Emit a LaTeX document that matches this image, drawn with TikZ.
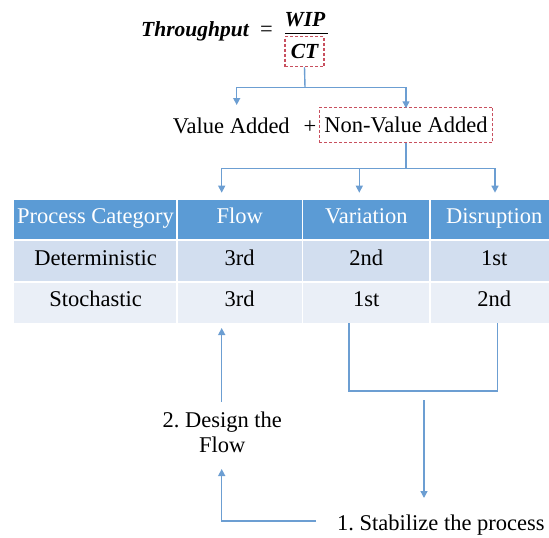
\documentclass[tikz,border=0pt]{standalone}
\usepackage{fontspec}
\setmainfont{Liberation Serif}
\usetikzlibrary{arrows.meta}

\definecolor{linkblue}{RGB}{108,158,210}
\definecolor{headblue}{RGB}{91,155,213}
\definecolor{bandA}{RGB}{210,222,239}
\definecolor{bandB}{RGB}{234,239,247}
\definecolor{dashred}{RGB}{200,80,95}

\tikzset{
  txt/.style={inner sep=0pt, font=\fontsize{22.5}{24.7}\selectfont\frenchspacing},
  bitxt/.style={txt, font=\fontsize{21.5}{24.7}\selectfont\bfseries\itshape},
  dashbox/.style={draw=dashred, line width=1.1pt, dash pattern=on 3pt off 2pt},
  link/.style={draw=linkblue, line width=1.4pt},
  linkarrow/.style={link, -{Triangle[width=7pt,length=7pt]}},
  cell/.style={txt, anchor=north west, text height=14pt, text depth=6pt},
  headcell/.style={cell, fill=headblue, text=white},
  rowA/.style={cell, fill=bandA},
  rowB/.style={cell, fill=bandB},
}

\begin{document}
\begin{tikzpicture}[x=1pt,y=-1pt]
\useasboundingbox (0,0) rectangle (549,538);

% ---- throughput formula ----
\node[bitxt, anchor=base east] (tp) at (249,36.7) {Throughput};
\node[txt, anchor=base] (eq) at (266.5,36.7) {=};
\node[bitxt, anchor=base] (wip) at (305,26) {WIP};
\draw[line width=1.4pt] (285,33.3) -- (328,33.3);
\node[bitxt, dashbox, minimum width=39pt, minimum height=30pt] (ct) at (304.5,51.7) {CT};

% ---- value added split ----
\node[txt, anchor=base west] (va) at (172.7,133.3) {Value Added};
\node[txt, anchor=base] (plus) at (310,133.3) {+};
\node[txt, dashbox, minimum width=173.7pt, minimum height=35.4pt] (nva) at (406,125) {Non-Value Added};

\coordinate (j1) at (305,87.3);
\coordinate (vaIn) at (236.7,105);
\draw[link] (ct.south) -- (j1);
\draw[linkarrow] (j1) -| (vaIn);
\draw[linkarrow] (j1) -| ([yshift=-1.5pt]nva.north);

\coordinate (j2) at (406,168.3);
\coordinate (t1) at (221.7,192.7);
\coordinate (t2) at (359.3,192.7);
\coordinate (t3) at (495,192.7);
\draw[link] (nva.south) -- (j2);
\draw[linkarrow] (j2) -| (t1);
\draw[linkarrow] (j2) -| (t2);
\draw[linkarrow] (j2) -| (t3);

% ---- table ----
\node[headcell, minimum width=162.7pt, minimum height=39pt] (c00) at (14,199.3) {Process Category};
\node[headcell, minimum width=125.6pt, minimum height=39pt] (c01) at (176.7,199.3) {Flow};
\node[headcell, minimum width=127.7pt, minimum height=39pt] (c02) at (302.3,199.3) {Variation};
\node[headcell, minimum width=128pt, minimum height=39pt] (c03) at (430,199.3) {Disruption};

\node[rowA, minimum width=162.7pt, minimum height=39.7pt] (c10) at (14,241) {Deterministic};
\node[rowA, minimum width=125.6pt, minimum height=39.7pt] (c11) at (176.7,241) {3rd};
\node[rowA, minimum width=127.7pt, minimum height=39.7pt] (c12) at (302.3,241) {2nd};
\node[rowA, minimum width=128pt, minimum height=39.7pt] (c13) at (430,241) {1st};

\node[rowB, minimum width=162.7pt, minimum height=40pt] (c20) at (14,282.7) {Stochastic};
\node[rowB, minimum width=125.6pt, minimum height=40pt] (c21) at (176.7,282.7) {3rd};
\node[rowB, minimum width=127.7pt, minimum height=40pt] (c22) at (302.3,282.7) {1st};
\node[rowB, minimum width=128pt, minimum height=40pt] (c23) at (430,282.7) {2nd};

% white column separators
\foreach \cx in {176.7,302.3,430}
  \draw[white, line width=1.6pt] (\cx,199) -- (\cx,323);

% ---- improvement steps ----
\node[txt, align=center] (df) at (222.2,432) {2. Design the\\Flow};
\node[txt, anchor=base west] (stab) at (337,530.7) {1. Stabilize the process};

\coordinate (fUp0) at (221.7,401.7);
\coordinate (fUp1) at (221.7,328);
\draw[linkarrow] (fUp0) -- (fUp1);

\coordinate (br1) at (349,323);
\coordinate (br2) at (497.6,323);
\draw[link] (br1) -- ++(0,68) -| (br2);

\coordinate (d0) at (424,400);
\coordinate (d1) at (424,498);
\draw[linkarrow] (d0) -- (d1);

\coordinate (s0) at (316,521);
\coordinate (dfIn) at (221.7,469);
\draw[linkarrow] (s0) -| (dfIn);
\end{tikzpicture}
\end{document}
